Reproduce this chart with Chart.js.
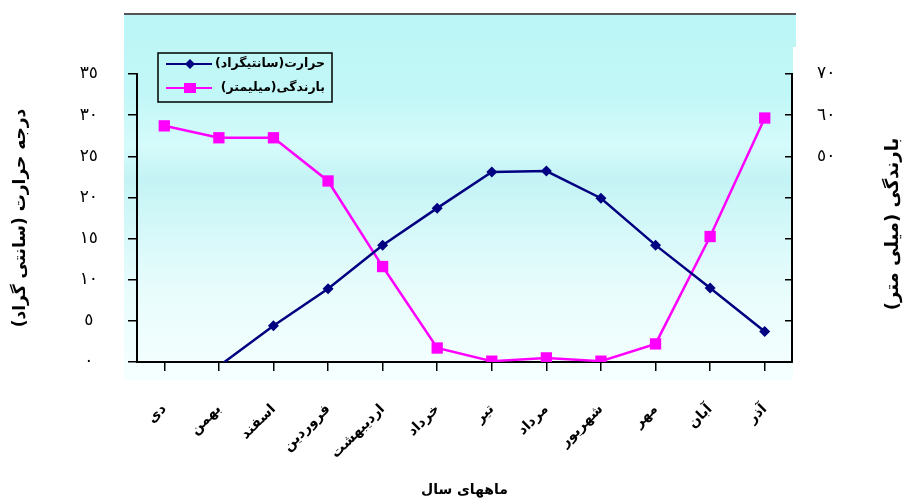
<!DOCTYPE html>
<html><head><meta charset="utf-8">
<script src="https://cdn.jsdelivr.net/npm/chart.js@4"></script>
<style>html,body{margin:0;padding:0;background:#fff}</style>
</head><body>
<canvas id="c" width="912" height="504" dir="rtl"></canvas>
<script>
const months = ['دی','بهمن','اسفند','فروردین','اردیبهشت','خرداد','تیر','مرداد','شهریور','مهر','آبان','آذر'];
const temperature = [-4, -0.5, 4.4, 8.9, 14.2, 18.7, 23.1, 23.2, 19.9, 14.2, 9.0, 3.7];
const rainfall = [57.4, 54.5, 54.5, 44.0, 23.2, 3.4, 0.2, 1.0, 0.2, 4.4, 30.5, 59.3];
const tempRange = [0, 35, 5];
const rainRange = [0, 70, 10];
const rainShownFrom = 50;
const seriesNames = ['حرارت(سانتیگراد)', 'بارندگی(میلیمتر)'];
const axisTitles = { left: 'درجه حرارت (سانتی گراد)', right: 'بارندگی (میلی متر)', x: 'ماههای سال' };

const FONT = "'DejaVu Sans', sans-serif";
const digits = '٠١٢٣٤٥٦٧٨٩';
const toAr = v => String(v).replace(/[0-9]/g, d => digits[+d]);

const bgPlugin = {
  id: 'bg',
  beforeDraw(chart) {
    const {ctx, chartArea: a} = chart;
    const L = a.left - 13, R = a.right + 4, T = a.top - 60, B = a.bottom + 18;
    ctx.save();
    const g = ctx.createLinearGradient(0, T, 0, B);
    g.addColorStop(0, '#bcf6f6');
    g.addColorStop(0.22, '#c2f7f7');
    g.addColorStop(0.36, '#d6fbfb');
    g.addColorStop(0.45, '#c4f3f5');
    g.addColorStop(0.55, '#d1f7f8');
    g.addColorStop(0.75, '#e8fcfc');
    g.addColorStop(1, '#f6ffff');
    ctx.fillStyle = g;
    ctx.fillRect(L, T, R - L, B - T);
    ctx.fillStyle = '#fff';
    ctx.fillRect(a.right + 1, T + 33, 10, B - T);
    ctx.strokeStyle = '#555';
    ctx.lineWidth = 2;
    ctx.beginPath(); ctx.moveTo(L, T); ctx.lineTo(R, T); ctx.stroke();
    ctx.restore();
  }
};

const overlayPlugin = {
  id: 'overlay',
  afterDraw(chart) {
    const {ctx, chartArea: a} = chart;
    ctx.save();
    const bx = a.left + 21, by = a.top - 21, bw = 174, bh = 49;
    ctx.strokeStyle = '#000'; ctx.lineWidth = 1.5;
    ctx.strokeRect(bx, by, bw, bh);
    const ds = chart.data.datasets;
    const rows = [by + 11, by + 35];
    ds.forEach((d, i) => {
      const y = rows[i];
      ctx.strokeStyle = d.borderColor; ctx.lineWidth = 2;
      ctx.beginPath(); ctx.moveTo(bx + 8, y); ctx.lineTo(bx + 54, y); ctx.stroke();
      ctx.fillStyle = d.backgroundColor;
      const cx = bx + 32;
      if (d.pointStyle === 'rectRot') {
        ctx.beginPath(); ctx.moveTo(cx, y - 5); ctx.lineTo(cx + 5, y); ctx.lineTo(cx, y + 5); ctx.lineTo(cx - 5, y); ctx.closePath(); ctx.fill();
      } else {
        ctx.fillRect(cx - 6, y - 5, 12, 10);
      }
      ctx.fillStyle = '#000';
      ctx.font = 'bold 12.5px ' + FONT;
      ctx.textAlign = 'right'; ctx.textBaseline = 'middle';
      ctx.fillText(d.label, bx + 167, y);
    });
    ctx.translate(a.right + 101, (a.top + a.bottom) / 2 + 6);
    ctx.rotate(-Math.PI / 2);
    ctx.fillStyle = '#000';
    ctx.font = 'bold 18px ' + FONT;
    ctx.textAlign = 'center'; ctx.textBaseline = 'middle';
    ctx.fillText(axisTitles.right, 0, 0);
    ctx.restore();
  }
};

new Chart(document.getElementById('c'), {
  type: 'line',
  data: {
    labels: months,
    datasets: [
      {
        label: seriesNames[0], data: temperature, yAxisID: 'y',
        borderColor: '#000080', backgroundColor: '#000080', borderWidth: 2.5,
        pointStyle: 'rectRot', pointRadius: c => (c.raw < 0 ? 0 : 5.5), pointBorderWidth: 0, tension: 0, order: 1
      },
      {
        label: seriesNames[1], data: rainfall, yAxisID: 'y2',
        borderColor: '#ff00ff', backgroundColor: '#ff00ff', borderWidth: 2.5,
        pointStyle: 'rect', pointRadius: 8, pointBorderWidth: 0, tension: 0, order: 2
      }
    ]
  },
  options: {
    responsive: false, animation: false, devicePixelRatio: 1,
    layout: { padding: { top: 74, left: 0, right: 0, bottom: 0 } },
    plugins: { legend: { display: false }, tooltip: { enabled: false } },
    scales: {
      x: {
        offset: true,
        grid: { drawOnChartArea: false, tickLength: 9, color: '#000', lineWidth: 1.5 },
        border: { color: '#000', width: 2 },
        ticks: { minRotation: 45, maxRotation: 45, padding: 30, color: '#000', font: { family: FONT, size: 14, weight: 'bold' } },
        title: { display: true, text: axisTitles.x, color: '#000', font: { family: FONT, size: 14, weight: 'bold' }, padding: { top: 0, bottom: 5 } },
        afterFit(s) { s.height = 142; }
      },
      y: {
        position: 'left', min: tempRange[0], max: tempRange[1],
        grid: { drawOnChartArea: false, tickLength: 9, color: '#000', lineWidth: 1.5 },
        border: { color: '#000', width: 2 },
        ticks: { stepSize: tempRange[2], padding: 30, crossAlign: 'center', color: '#000', font: { family: FONT, size: 17 }, callback: v => toAr(v) },
        title: { display: true, text: axisTitles.left, color: '#000', font: { family: FONT, size: 17, weight: 'bold' }, padding: { top: 10, bottom: 0 } },
        afterFit(s) { s.width = 137; }
      },
      y2: {
        position: 'right', min: rainRange[0], max: rainRange[1],
        grid: { drawOnChartArea: false, tickLength: -7, color: '#000', lineWidth: 1.5 },
        border: { color: '#000', width: 2 },
        ticks: { stepSize: rainRange[2], padding: 32, color: '#000', font: { family: FONT, size: 17 }, callback: v => (v >= rainShownFrom ? toAr(v) : '') },
        afterFit(s) { s.width = 120; }
      }
    }
  },
  plugins: [bgPlugin, overlayPlugin]
});
</script>
</body></html>
